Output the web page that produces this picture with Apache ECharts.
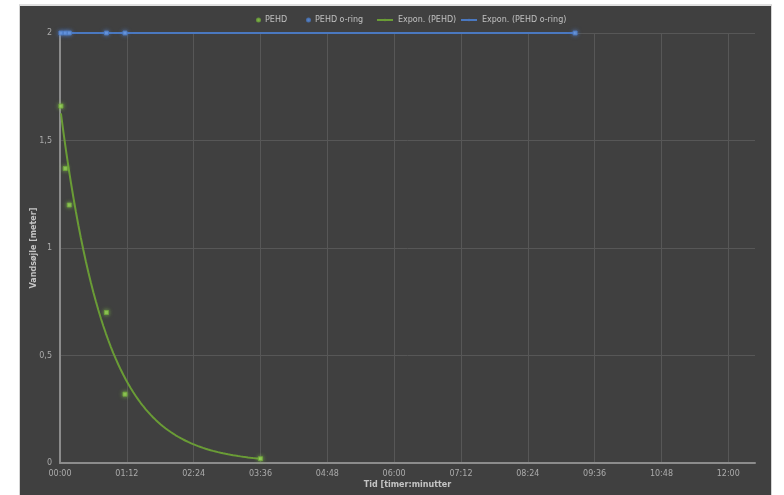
<!DOCTYPE html>
<html>
<head>
<meta charset="utf-8">
<script src="https://cdn.jsdelivr.net/npm/echarts@6/dist/echarts.min.js"></script>
<style>
  html, body { margin: 0; padding: 0; background: #ffffff; }
  #frame { position: absolute; left: 19px; top: 4px; width: 753px; height: 491px;
           background: #404040; border: 1px solid #d4d4d4; border-bottom: none; border-top: 2px solid #e0e0e0; box-sizing: border-box; }
  #chart { position: absolute; left: 0; top: 0; width: 784px; height: 495px; }
</style>
</head>
<body>
<div id="frame"></div>
<div id="chart"></div>
<script>
// Time in minutes, water column in metres
const pehdTime   = [1, 5.7, 10, 50, 70, 216];
const pehdValue  = [1.66, 1.37, 1.20, 0.70, 0.32, 0.02];
const oringTime  = [1, 5.7, 10, 50, 70, 555];
const oringValue = [2, 2, 2, 2, 2, 2];
// Exponential trendlines y = a * exp(b * t) as shown on the chart
const trendPEHD  = { a: 1.66, b: -0.0205 };
const trendORing = { a: 2.0,  b: 0 };
const xTickLabels = ['00:00','01:12','02:24','03:36','04:48','06:00','07:12','08:24','09:36','10:48','12:00'];
const yTickLabels = ['0','0,5','1','1,5','2'];

function pairs(xs, ys) { return xs.map((x, i) => [x, ys[i]]); }
function trendCurve(tr, xs) {
  const x0 = Math.min(...xs), x1 = Math.max(...xs), n = 80, out = [];
  for (let i = 0; i <= n; i++) { const t = x0 + (x1 - x0) * i / n; out.push([t, tr.a * Math.exp(tr.b * t)]); }
  return out;
}
function fmtTime(v) {
  const idx = Math.round(v / 72);
  if (Math.abs(v - idx * 72) < 0.01 && xTickLabels[idx]) return xTickLabels[idx];
  return '';
}
function fmtY(v) {
  const idx = Math.round(v / 0.5);
  return yTickLabels[idx] !== undefined ? yTickLabels[idx] : '';
}

const font = 'DejaVu Sans';
const chart = echarts.init(document.getElementById('chart'), null, { renderer: 'canvas' });
const legendText = { color: '#c0c0c0', fontSize: 8, fontFamily: font };
chart.setOption({
  backgroundColor: 'transparent',
  animation: false,
  legend: [
    { data: ['PEHD'], left: 251, top: 11, itemWidth: 3, itemHeight: 3, textStyle: legendText, icon: 'circle' },
    { data: ['PEHD o-ring'], left: 301, top: 11, itemWidth: 3, itemHeight: 3, textStyle: legendText, icon: 'circle' },
    { data: ['Expon. (PEHD)'], left: 371, top: 11, itemWidth: 16, itemHeight: 3, textStyle: legendText },
    { data: ['Expon. (PEHD o-ring)'], left: 455, top: 11, itemWidth: 16, itemHeight: 3, textStyle: legendText }
  ],
  grid: { left: 60, right: 29, top: 33, bottom: 32, containLabel: false },
  xAxis: {
    type: 'value', min: 0, max: 748.8, interval: 72,
    name: 'Tid [timer:minutter', nameLocation: 'middle', nameGap: 18, nameMoveOverlap: false,
    nameTextStyle: { color: '#c4c4c4', fontSize: 8, fontWeight: 'bold', fontFamily: font },
    axisLine: { lineStyle: { color: '#8c8c8c', width: 2 } },
    axisTick: { show: false },
    axisLabel: { color: '#ababab', fontSize: 8, fontFamily: font, margin: 7, formatter: fmtTime, showMaxLabel: false },
    splitLine: { show: true, showMaxLine: false, lineStyle: { color: '#575757', width: 1 } }
  },
  yAxis: {
    type: 'value', min: 0, max: 2, interval: 0.5,
    name: 'Vandsøjle [meter]', nameLocation: 'middle', nameGap: 22, nameRotate: 90, nameMoveOverlap: false,
    nameTextStyle: { color: '#c4c4c4', fontSize: 8, fontWeight: 'bold', fontFamily: font },
    axisLine: { show: true, lineStyle: { color: '#8c8c8c', width: 2 } },
    axisTick: { show: false },
    axisLabel: { color: '#ababab', fontSize: 8, fontFamily: font, margin: 8, formatter: fmtY },
    splitLine: { show: true, lineStyle: { color: '#575757', width: 1 } }
  },
  series: [
    { name: 'Expon. (PEHD)', type: 'line', data: trendCurve(trendPEHD, pehdTime), showSymbol: false, symbol: 'none',
      lineStyle: { color: '#6a9c36', width: 2 }, itemStyle: { color: '#6a9c36' }, z: 2 },
    { name: 'Expon. (PEHD o-ring)', type: 'line', data: trendCurve(trendORing, oringTime), showSymbol: false, symbol: 'none',
      lineStyle: { color: '#4a78c0', width: 2 }, itemStyle: { color: '#4a78c0' }, z: 2 },
    { name: 'PEHD', type: 'scatter', data: pairs(pehdTime, pehdValue), symbol: 'rect', symbolSize: 4,
      itemStyle: { color: '#9ad45a', borderColor: '#6fa83a', borderWidth: 1, shadowBlur: 4, shadowColor: 'rgba(140,210,80,0.8)' }, z: 4 },
    { name: 'PEHD o-ring', type: 'scatter', data: pairs(oringTime, oringValue), symbol: 'rect', symbolSize: 4,
      itemStyle: { color: '#6e9be0', borderColor: '#4a78c0', borderWidth: 1, shadowBlur: 4, shadowColor: 'rgba(90,140,220,0.8)' }, z: 4 }
  ]
});
</script>
</body>
</html>
